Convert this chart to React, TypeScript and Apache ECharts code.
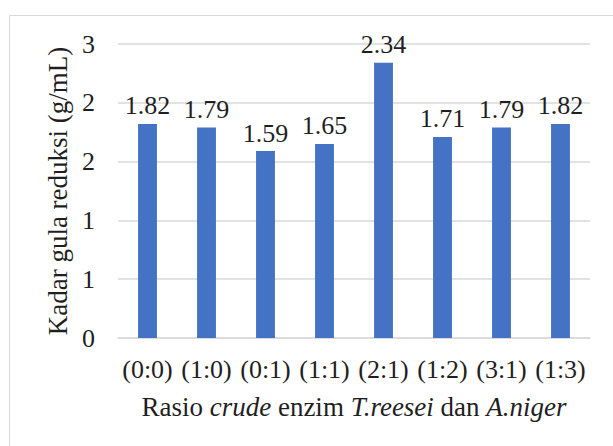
import React, { useEffect, useRef } from "react";
import * as echarts from "echarts";

const categories = ["(0:0)", "(1:0)", "(0:1)", "(1:1)", "(2:1)", "(1:2)", "(3:1)", "(1:3)"];
const values = [1.82, 1.79, 1.59, 1.65, 2.34, 1.71, 1.79, 1.82];
const yTickLabels = ["0", "1", "1", "2", "2", "3"];
const yMin = 0;
const yMax = 2.5;
const yInterval = 0.5;

const FONT = "Liberation Serif";
const TEXT = "#1f1f1f";
const FS = 26;
const NAME_FS = 27;

export default function App() {
  const ref = useRef<HTMLDivElement>(null);
  useEffect(() => {
    const chart = echarts.init(ref.current!, null, { renderer: "svg" });
    chart.setOption({
      animation: false,
      backgroundColor: "#ffffff",
      textStyle: { fontFamily: FONT },
      graphic: [
        {
          type: "rect",
          shape: { x: 9.5, y: 15.5, width: 640, height: 470 },
          style: { fill: "none", stroke: "#d9d9d9", lineWidth: 1 },
          silent: true,
        },
      ],
      grid: { left: 118, right: 23, top: 44, bottom: 108 },
      xAxis: {
        type: "category",
        data: categories,
        axisTick: { show: false },
        axisLine: { lineStyle: { color: "#d9d9d9", width: 1.5 } },
        axisLabel: { color: TEXT, fontSize: FS, fontFamily: FONT, margin: 18, interval: 0 },
        name: "Rasio {i|crude} enzim {i|T.reesei} dan {i|A.niger}",
        nameLocation: "middle",
        nameGap: 55,
        nameTextStyle: {
          color: TEXT,
          fontSize: NAME_FS,
          fontFamily: FONT,
          rich: { i: { fontStyle: "italic", fontSize: NAME_FS, fontFamily: FONT, color: TEXT } },
        },
      },
      yAxis: {
        type: "value",
        min: yMin,
        max: yMax,
        interval: yInterval,
        axisLine: { show: false },
        axisTick: { show: false },
        splitLine: { lineStyle: { color: "#d9d9d9", width: 1.5 } },
        axisLabel: {
          color: TEXT,
          fontSize: FS,
          fontFamily: FONT,
          margin: 23,
          formatter: (v: number) => yTickLabels[Math.round((v - yMin) / yInterval)] ?? "",
        },
        name: "Kadar gula reduksi (g/mL)",
        nameLocation: "middle",
        nameGap: 42,
        nameTextStyle: { color: TEXT, fontSize: NAME_FS, fontFamily: FONT },
      },
      series: [
        {
          type: "bar",
          data: values,
          barWidth: "32%",
          itemStyle: { color: "#4472C4" },
          label: {
            show: true,
            position: "top",
            distance: 5,
            color: TEXT,
            fontSize: FS,
            fontFamily: FONT,
            formatter: (p: any) => p.value.toFixed(2),
          },
        },
      ],
    });
    return () => chart.dispose();
  }, []);
  return <div ref={ref} style={{ position: "absolute", left: 0, top: 0, width: 613, height: 446 }} />;
}
